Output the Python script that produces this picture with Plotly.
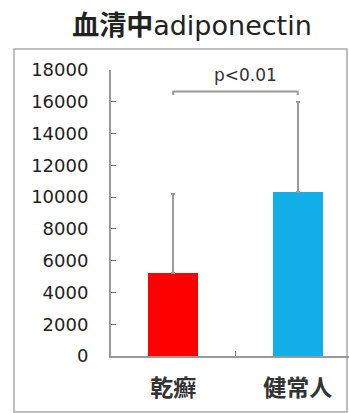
import plotly.graph_objects as go

categories = ["乾癬", "健常人"]
means = [5200, 10300]
sds = [5000, 5700]
bar_colors = ["#ff0000", "#12aee8"]
y_ticks = list(range(0, 18001, 2000))
p_label = "p<0.01"
title_cjk = "血清中"
title_latin = "adiponectin"

fig = go.Figure()
fig.add_trace(go.Bar(
    x=categories, y=means,
    marker=dict(color=bar_colors, line=dict(width=0)),
    width=0.4,
    error_y=dict(type="data", symmetric=False, array=sds, arrayminus=[0, 0],
                 color="#9a9a9a", thickness=2, width=2),
    showlegend=False,
))

# significance bracket
bracket_y = 16650
cap = 220
fig.add_trace(go.Scatter(
    x=[categories[0], categories[0], categories[1], categories[1]],
    y=[bracket_y - cap, bracket_y, bracket_y, bracket_y - cap],
    mode="lines", line=dict(color="#9a9a9a", width=2),
    showlegend=False, hoverinfo="skip",
))
fig.add_annotation(x=0.5, y=bracket_y, xref="x", yref="y", text=p_label,
                   showarrow=False, yanchor="bottom", yshift=4, xshift=10,
                   font=dict(family="DejaVu Sans", size=17, color="#333"))

# outer frame
fig.add_shape(type="rect", xref="paper", yref="paper",
              x0=-0.4076, x1=0.9916, y0=-0.1958, y1=1.0734,
              line=dict(color="#aaaaaa", width=1.5), layer="below")

fig.update_layout(
    width=349, height=413, autosize=False,
    margin=dict(l=111, r=0, t=70, b=57),
    paper_bgcolor="white", plot_bgcolor="white",
    title=dict(text=f"<b>{title_cjk}</b>{title_latin}", x=192/349, xanchor="center",
               y=1 - 26/413, yanchor="middle", yref="container",
               font=dict(family="DejaVu Sans, Noto Sans CJK JP", size=27, color="#222")),
    bargap=0,
)
fig.update_xaxes(
    type="category", range=[-0.5, 1.412],
    showline=True, linecolor="#999999", linewidth=2,
    ticks="inside", tickson="boundaries", ticklen=5, tickcolor="#777", tickwidth=1,
    tickfont=dict(family="Noto Sans CJK JP", size=23, color="#333", weight="bold"),
    ticklabelstandoff=10, showgrid=False, zeroline=False,
)
fig.update_yaxes(
    range=[0, 18000], tickvals=y_ticks, ticktext=[str(v) for v in y_ticks],
    showline=True, linecolor="#999999", linewidth=2,
    ticks="inside", ticklen=5, tickcolor="#777", tickwidth=1,
    tickfont=dict(family="DejaVu Sans", size=18, color="#222"),
    ticklabelstandoff=17, showgrid=False, zeroline=False,
)

fig.write_html("out.html", config={"displayModeBar": False},
               post_script="document.body.style.margin='0';document.body.style.padding='0';")
